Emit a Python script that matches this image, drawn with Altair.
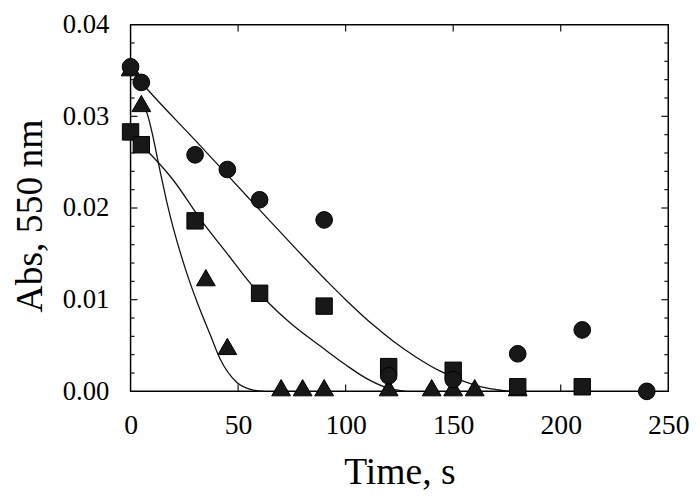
import altair as alt
import pandas as pd

# ---- data ----
circ_t = [0, 5, 30, 45, 60, 90, 120, 150, 180, 210, 240]
circ_a = [0.0354, 0.0337, 0.0258, 0.0242, 0.0209, 0.0187, 0.0017, 0.0013, 0.0041, 0.0067, 0.0000]

sq_t = [0, 5, 30, 60, 90, 120, 150, 180, 210]
sq_a = [0.0283, 0.0269, 0.0186, 0.0107, 0.0093, 0.0027, 0.0023, 0.0005, 0.0005]

tri_t = [0, 5, 35, 45, 70, 80, 90, 120, 140, 150, 160, 180]
tri_a = [0.0353, 0.0314, 0.0124, 0.0049, 0.0004, 0.0004, 0.0004, 0.0004, 0.0004, 0.0004, 0.0004, 0.0004]

# fitted curves
fit_circ_t = [5, 8, 30, 60, 91, 100, 113, 122, 133, 144, 155, 163, 170, 177]
fit_circ_a = [0.0337, 0.0329, 0.0274, 0.0198, 0.0121, 0.0100, 0.0072, 0.0055, 0.0037, 0.0022, 0.0011, 0.0005, 0.0002, 0.0]

fit_sq_t = [5, 19, 34, 45, 56, 64, 74, 89, 100, 109, 118, 128]
fit_sq_a = [0.0269, 0.0233, 0.0183, 0.0150, 0.0117, 0.0097, 0.0075, 0.0048, 0.0029, 0.0015, 0.0005, 0.0]

fit_tri_t = [5, 7.4, 14.3, 17.3, 25.7, 31, 37, 41.7, 49.3, 57, 62]
fit_tri_a = [0.0316, 0.0305, 0.0234, 0.0202, 0.0132, 0.0097, 0.0062, 0.0035, 0.0010, 0.00014, 0.0]

x_ticks = [0, 50, 100, 150, 200, 250]
y_ticks = [0.0, 0.01, 0.02, 0.03, 0.04]
x_inner_ticks = [50, 100, 150, 200]
y_major_inner = [0.01, 0.02, 0.03]
y_minor_inner = [0.002, 0.004, 0.006, 0.008, 0.012, 0.014, 0.016, 0.018,
                 0.022, 0.024, 0.026, 0.028, 0.032, 0.034, 0.036, 0.038]

W, H = 544, 371
FONT = "Liberation Serif, Times New Roman, serif"
INK = "#111111"

circ = pd.DataFrame({"t": circ_t, "a": circ_a})
sq = pd.DataFrame({"t": sq_t, "a": sq_a})
tri = pd.DataFrame({"t": tri_t, "a": tri_a})
fits = pd.concat([
    pd.DataFrame({"t": fit_circ_t, "a": fit_circ_a, "s": "circle"}),
    pd.DataFrame({"t": fit_sq_t, "a": fit_sq_a, "s": "square"}),
    pd.DataFrame({"t": fit_tri_t, "a": fit_tri_a, "s": "triangle"}),
])
xt = pd.DataFrame({"t": x_inner_ticks})
ytM = pd.DataFrame({"a": y_major_inner})
ytm = pd.DataFrame({"a": y_minor_inner})

xscale = alt.Scale(domain=[0, 250], nice=False, zero=False)
yscale = alt.Scale(domain=[0, 0.04], nice=False, zero=False)

xaxis = alt.Axis(values=x_ticks, format="d", ticks=False, domain=False, grid=False,
                 labelPadding=21, labelFont=FONT, labelFontSize=28, labelColor="black",
                 labelFlush=False, labelOverlap=False,
                 title="Time, s", titleFont=FONT, titleFontSize=38, titleFontWeight="normal",
                 titleColor="black", titleY=93, titleBaseline="alphabetic")
yaxis = alt.Axis(values=y_ticks, format=".2f", ticks=False, domain=False, grid=False,
                 labelPadding=22, labelFont=FONT, labelFontSize=27, labelColor="black",
                 labelFlush=False, labelOverlap=False,
                 title="Abs, 550 nm", titleFont=FONT, titleFontSize=38, titleFontWeight="normal",
                 titleColor="black", titleAngle=270, titleX=-90, titleY=193,
                 titleBaseline="alphabetic", titleAlign="center")

X = alt.X("t:Q", scale=xscale, axis=xaxis)
Y = alt.Y("a:Q", scale=yscale, axis=yaxis)

rule = dict(color=INK, strokeWidth=1.2)
bottom_ticks = alt.Chart(xt).mark_rule(**rule).encode(x=X, y=alt.value(H), y2=alt.value(H - 7))
top_ticks = alt.Chart(xt).mark_rule(**rule).encode(x=X, y=alt.value(0), y2=alt.value(7))
left_major = alt.Chart(ytM).mark_rule(**rule).encode(y=Y, x=alt.value(0), x2=alt.value(7))
right_major = alt.Chart(ytM).mark_rule(**rule).encode(y=Y, x=alt.value(W), x2=alt.value(W - 7))
left_minor = alt.Chart(ytm).mark_rule(**rule).encode(y=Y, x=alt.value(0), x2=alt.value(4))
right_minor = alt.Chart(ytm).mark_rule(**rule).encode(y=Y, x=alt.value(W), x2=alt.value(W - 4))

lines = alt.Chart(fits).mark_line(color=INK, strokeWidth=1.3, interpolate="monotone").encode(
    x=X, y=Y, detail="s:N")

pt = dict(filled=True, fill="#181818", stroke="black", strokeWidth=1, opacity=1)
tri_pts = alt.Chart(tri).mark_point(shape="triangle-up", size=360, **pt).encode(x=X, y=Y)
sq_pts = alt.Chart(sq).mark_point(shape="square", size=275, **pt).encode(x=X, y=Y)
circ_pts = alt.Chart(circ).mark_point(shape="circle", size=285, **pt).encode(x=X, y=Y)

chart = alt.layer(
    bottom_ticks, top_ticks, left_major, right_major, left_minor, right_minor,
    lines, tri_pts, sq_pts, circ_pts
).properties(
    width=W, height=H,
    autosize=alt.AutoSizeParams(type="none"),
    padding={"left": 124, "top": 14, "right": 24, "bottom": 102},
    background="white",
).configure_view(stroke="black", strokeWidth=1.5)

chart.save("out.html", embed_options={"renderer": "svg", "actions": False})
